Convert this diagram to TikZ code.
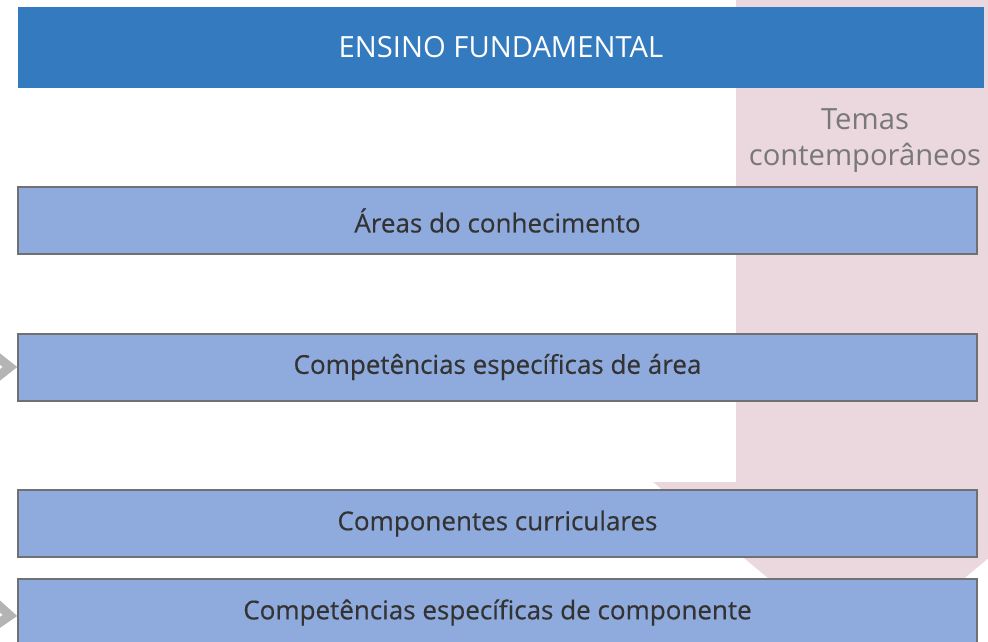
\documentclass[tikz,border=0pt]{standalone}
\usepackage{fontspec}
\setmainfont{Open Sans}
\newfontfamily\boxfont[FakeBold=0.4]{Open Sans}
\usepackage{xcolor}
\definecolor{barblue}{RGB}{51,122,191}
\definecolor{boxblue}{RGB}{143,170,220}
\definecolor{boxline}{RGB}{112,112,112}
\definecolor{bandpink}{RGB}{235,215,222}
\definecolor{textgray}{RGB}{51,51,51}
\definecolor{temagray}{RGB}{120,120,120}
\definecolor{arrowgray}{RGB}{180,180,180}

\tikzset{
  areabox/.style={rectangle,draw=boxline,line width=1pt,fill=boxblue,
    minimum width=479.5pt,minimum height=33.5pt,inner sep=0pt,
    text=textgray,font=\boxfont\fontsize{13}{15}\selectfont},
  topbar/.style={rectangle,fill=barblue,minimum width=483pt,minimum height=40.5pt,
    inner sep=0pt,text=white,font=\fontsize{14.6}{16}\selectfont},
  sidearrow/.style={draw=arrowgray,line width=4.5pt,line join=miter}
}

\begin{document}
\begin{tikzpicture}[x=0.5pt,y=-0.5pt]
\useasboundingbox (0,0) rectangle (988,641);
\clip (0,0) rectangle (988,641);
% faixa dos temas
\fill[bandpink] (736,0) -- (996,0) -- (996,482) -- (1080,482) -- (866,660)
  -- (653,482) -- (736,482) -- cycle;
\node (tema) at (865,141) [text=temagray,align=center,
  font=\fontsize{14.6}{18}\selectfont] {Temas\\contemporâneos};
\node (topo) at (501,47.5) [topbar] {ENSINO FUNDAMENTAL};
\node (areas) at (497.5,220.5) [areabox] {Áreas do conhecimento};
\node (compa) at (497.5,367) [areabox] {Competências específicas de área};
\node (comp) at (497.5,523.5) [areabox] {Componentes curriculares};
\node (compc) at (497.5,612.5) [areabox] {Competências específicas de componente};
\coordinate (a1) at (-14,348);
\coordinate (a2) at (-14,386);
\coordinate (b1) at (-14,594);
\coordinate (b2) at (-14,632);
\draw[sidearrow] (a1) -- ([xshift=-3.5pt]compa.west) -- (a2);
\draw[sidearrow] (b1) -- ([xshift=-3.5pt,yshift=-1.5pt]compc.west) -- (b2);
\end{tikzpicture}
\end{document}
